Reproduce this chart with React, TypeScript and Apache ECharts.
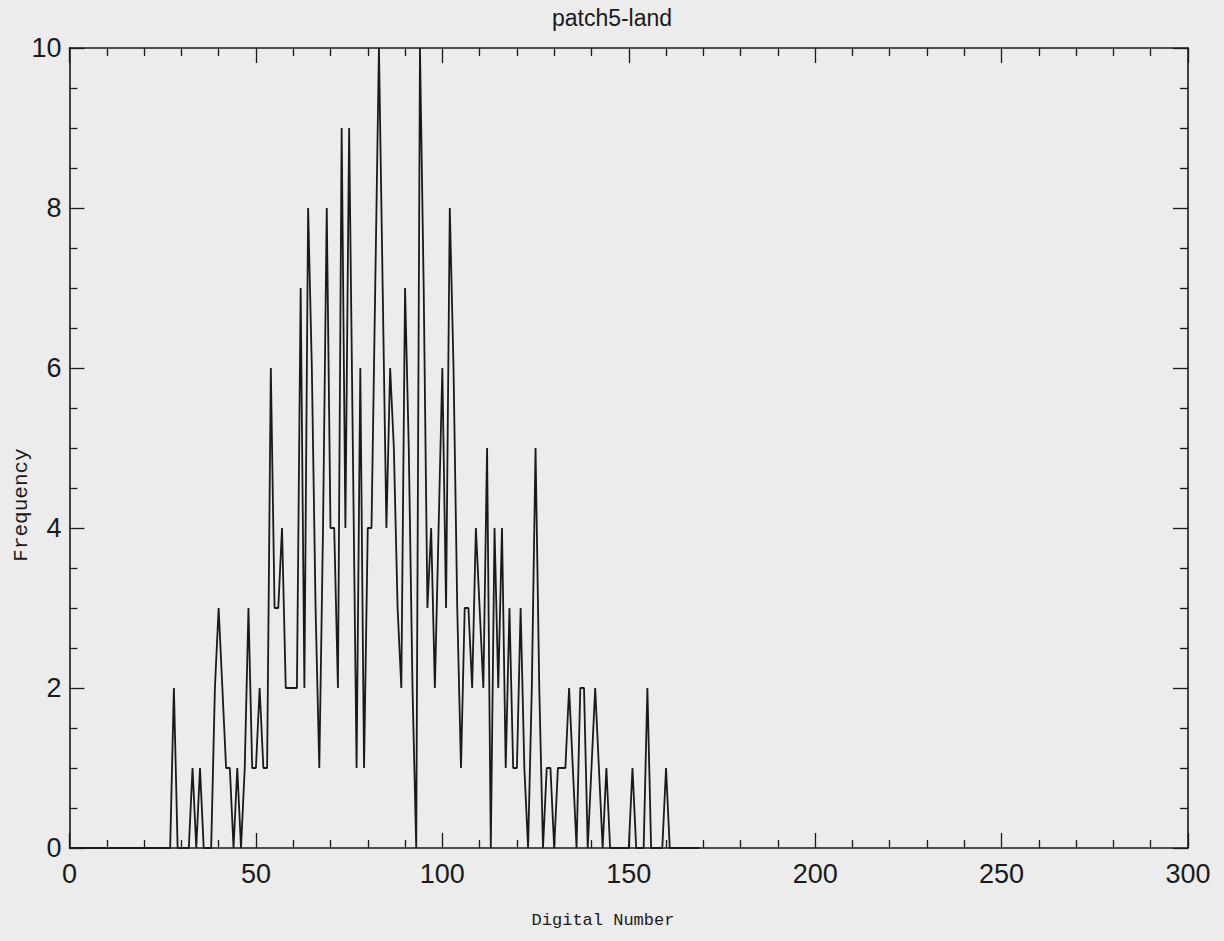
import React, { useEffect, useRef } from "react";
import * as echarts from "echarts";

const TITLE = "patch5-land";
const X_NAME = "Digital Number";
const Y_NAME = "Frequency";
const X_MIN = 0;
const X_MAX = 300;
const X_STEP = 50;
const Y_MIN = 0;
const Y_MAX = 10;
const Y_STEP = 2;

// first Digital Number of the FREQ list
const DN_START = 0;
// Frequency per Digital Number (DN 0 .. 169)
const FREQ: number[] = [
  0, 0, 0, 0, 0, 0, 0, 0, 0, 0,
  0, 0, 0, 0, 0, 0, 0, 0, 0, 0,
  0, 0, 0, 0, 0, 0, 0, 0, 2, 0,
  0, 0, 0, 1, 0, 1, 0, 0, 0, 2,
  3, 2, 1, 1, 0, 1, 0, 1, 3, 1,
  1, 2, 1, 1, 6, 3, 3, 4, 2, 2,
  2, 2, 7, 2, 8, 6, 3, 1, 4, 8,
  4, 4, 2, 9, 4, 9, 5, 1, 6, 1,
  4, 4, 7, 10, 7, 4, 6, 5, 3, 2,
  7, 5, 2, 0, 10, 7, 3, 4, 2, 4,
  6, 3, 8, 6, 3, 1, 3, 3, 2, 4,
  3, 2, 5, 0, 4, 2, 4, 1, 3, 1,
  1, 3, 1, 0, 2, 5, 2, 0, 1, 1,
  0, 1, 1, 1, 2, 1, 0, 2, 2, 0,
  1, 2, 1, 0, 1, 0, 0, 0, 0, 0,
  0, 1, 0, 0, 0, 2, 0, 0, 0, 0,
  1, 0, 0, 0, 0, 0, 0, 0, 0, 0,
];

const INK = "#1a1a1a";
const TICK_FONT = "'Liberation Sans', 'DejaVu Sans', sans-serif";
const MONO_FONT = "'Liberation Mono', 'DejaVu Sans Mono', monospace";

export default function App() {
  const ref = useRef<HTMLDivElement>(null);

  useEffect(() => {
    if (!ref.current) return;
    const chart = echarts.init(ref.current, null, { renderer: "svg" });
    const data = FREQ.map((f, i) => [DN_START + i, f]);

    const lineStyle = { color: INK, width: 1.6 };
    const tickStyle = { color: INK, width: 1.3 };

    const xBase = {
      type: "value",
      min: X_MIN,
      max: X_MAX,
      interval: X_STEP,
      axisLine: { show: true, onZero: false, lineStyle },
      axisTick: { show: true, inside: true, length: 15, lineStyle: tickStyle },
      minorTick: { show: true, splitNumber: 5, length: 8, lineStyle: tickStyle },
      splitLine: { show: false },
      minorSplitLine: { show: false },
    };
    const yBase = {
      type: "value",
      min: Y_MIN,
      max: Y_MAX,
      interval: Y_STEP,
      axisLine: { show: true, onZero: false, lineStyle },
      axisTick: { show: true, inside: true, length: 15, lineStyle: tickStyle },
      minorTick: { show: true, splitNumber: 4, length: 8, lineStyle: tickStyle },
      splitLine: { show: false },
      minorSplitLine: { show: false },
    };

    chart.setOption({
      animation: false,
      backgroundColor: "#ececec",
      title: {
        text: TITLE,
        left: "center",
        top: 1,
        textStyle: {
          fontFamily: TICK_FONT,
          fontSize: 23,
          fontWeight: "normal",
          color: INK,
        },
      },
      grid: { left: 69.5, right: 36, top: 48, bottom: 93, containLabel: false },
      xAxis: [
        {
          ...xBase,
          position: "bottom",
          axisLabel: {
            show: true,
            margin: 12,
            fontFamily: TICK_FONT,
            fontSize: 27,
            color: INK,
          },
        },
        { ...xBase, position: "top", axisLabel: { show: false } },
      ],
      yAxis: [
        {
          ...yBase,
          position: "left",
          axisLabel: {
            show: true,
            margin: 8,
            fontFamily: TICK_FONT,
            fontSize: 27,
            color: INK,
          },
        },
        { ...yBase, position: "right", axisLabel: { show: false } },
      ],
      graphic: [
        {
          type: "text",
          x: 603,
          y: 920,
          style: {
            text: X_NAME,
            font: `17px ${MONO_FONT}`,
            fill: INK,
            textAlign: "center",
            textVerticalAlign: "middle",
          },
        },
        {
          type: "text",
          x: 21,
          y: 505,
          rotation: Math.PI / 2,
          style: {
            text: Y_NAME,
            font: `21px ${MONO_FONT}`,
            fill: INK,
            textAlign: "center",
            textVerticalAlign: "middle",
          },
        },
      ],
      series: [
        {
          type: "line",
          xAxisIndex: 0,
          yAxisIndex: 0,
          data,
          symbol: "none",
          showSymbol: false,
          lineStyle: { color: INK, width: 1.8 },
          clip: true,
        },
      ],
    });

    return () => chart.dispose();
  }, []);

  return (
    <div
      ref={ref}
      style={{ position: "fixed", left: 0, top: 0, width: 1224, height: 941 }}
    />
  );
}
